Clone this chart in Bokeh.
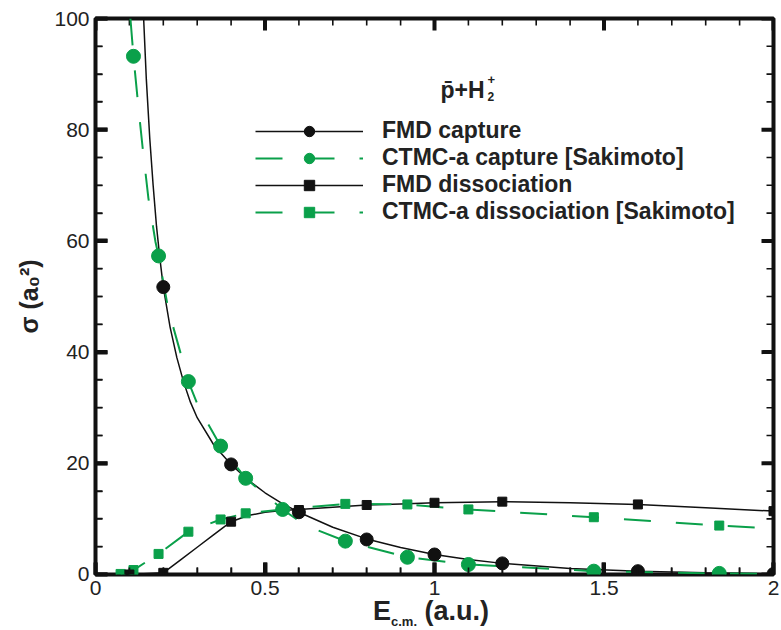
import numpy as np
from bokeh.plotting import figure
from bokeh.layouts import column
from bokeh.models import (Range1d, SingleIntervalTicker, Legend, LegendItem, Label, Div)
from bokeh.embed import file_html
from bokeh.resources import INLINE

# ---------------- data ----------------
x_tick_labels = ["0", "0.5", "1", "1.5", "2"]
y_tick_labels = ["0", "20", "40", "60", "80", "100"]

# FMD capture (black circles, solid curve)
fmd_cap_x = [0.2, 0.4, 0.6, 0.8, 1.0, 1.2, 1.6, 2.0]
fmd_cap_y = [51.7, 19.8, 11.2, 6.3, 3.6, 2.0, 0.6, 0.1]
fmd_cap_curve_x = [0.142, 0.15, 0.16, 0.17, 0.18, 0.19, 0.2, 0.22, 0.24, 0.26, 0.28, 0.3,
                   0.35, 0.4, 0.45, 0.5, 0.55, 0.6, 0.7, 0.8, 0.9, 1.0, 1.1, 1.2, 1.4,
                   1.6, 1.8, 2.0]
fmd_cap_curve_y = [100, 89, 78.5, 70, 62.6, 56.8, 51.7, 44.5, 39.0, 34.6, 31.0, 28.2,
                   23.2, 19.8, 17.0, 14.7, 12.8, 11.2, 8.5, 6.4, 4.85, 3.6, 2.7, 2.0, 1.1,
                   0.6, 0.3, 0.1]

# CTMC-a capture [Sakimoto] (green circles, dashed curve)
ctmc_cap_x = [0.112, 0.186, 0.274, 0.369, 0.443, 0.552, 0.737, 0.92, 1.10, 1.47, 1.84]
ctmc_cap_y = [93.2, 57.3, 34.7, 23.1, 17.3, 11.7, 6.0, 3.1, 1.8, 0.6, 0.2]
ctmc_cap_curve_x = [0.103, 0.112, 0.125, 0.139, 0.156, 0.177, 0.186, 0.215, 0.251, 0.274,
                    0.304, 0.369, 0.443, 0.552, 0.62, 0.737, 0.92, 1.10, 1.47, 1.84, 2.0]
ctmc_cap_curve_y = [100, 93.2, 85, 76.8, 67.7, 59.8, 57.3, 47.6, 39.8, 34.7,
                    30.1, 23.1, 17.3, 11.7, 8.8, 6.0, 3.1, 1.8, 0.6, 0.2, 0.1]

# FMD dissociation (black squares, solid curve)
fmd_dis_x = [0.1, 0.2, 0.4, 0.6, 0.8, 1.0, 1.2, 1.6, 2.0]
fmd_dis_y = [0.0, 0.3, 9.5, 11.6, 12.5, 12.9, 13.1, 12.6, 11.4]
fmd_dis_curve_x = [0.1, 0.2, 0.25, 0.3, 0.35, 0.4, 0.45, 0.5, 0.55, 0.6, 0.7, 0.8, 0.9,
                   1.0, 1.1, 1.2, 1.4, 1.6, 1.8, 2.0]
fmd_dis_curve_y = [0.0, 0.3, 2.6, 4.9, 7.2, 9.5, 10.6, 11.2, 11.5, 11.7, 12.1, 12.5, 12.7,
                   12.9, 13.0, 13.1, 12.9, 12.6, 12.0, 11.4]

# CTMC-a dissociation [Sakimoto] (green squares, dashed curve)
ctmc_dis_x = [0.074, 0.112, 0.186, 0.274, 0.369, 0.443, 0.552, 0.737, 0.92, 1.10, 1.47, 1.84]
ctmc_dis_y = [0.1, 0.8, 3.7, 7.7, 9.9, 11.0, 11.7, 12.7, 12.6, 11.7, 10.3, 8.8]
ctmc_dis_curve_x = ctmc_dis_x + [2.0]
ctmc_dis_curve_y = ctmc_dis_y + [8.3]

labels = ["FMD capture", "CTMC-a capture [Sakimoto]", "FMD dissociation",
          "CTMC-a dissociation [Sakimoto]"]

# ---------------- styling ----------------
BLACK = "#111111"
GREEN = "#0aa04a"
TXT = "#222222"
FONT = "Liberation Sans"
X0, X1, Y0, Y1 = 0, 2, 0, 100
EPS_X, EPS_Y = 1e-6, 1e-4
W, H = 781, 606
BL, BR, BT, BB = 95, 8, 18, 32
FW, FH = W - BL - BR, H - BT - BB
PX_X = (X1 - X0) / FW
PX_Y = (Y1 - Y0) / FH

p = figure(width=W, height=H, output_backend="svg", toolbar_location=None,
           x_range=Range1d(X0 - EPS_X, X1 + EPS_X), y_range=Range1d(Y0 - EPS_Y, Y1 + EPS_Y),
           min_border_left=BL, min_border_right=BR, min_border_top=BT, min_border_bottom=BB)
p.xgrid.grid_line_color = None
p.ygrid.grid_line_color = None
p.outline_line_color = BLACK
p.outline_line_width = 4

x_major = [float(s) for s in x_tick_labels]
y_major = [float(s) for s in y_tick_labels]
p.xaxis.ticker = SingleIntervalTicker(interval=0.5, num_minor_ticks=5)
p.yaxis.ticker = SingleIntervalTicker(interval=20, num_minor_ticks=4)
p.xaxis.major_label_overrides = {v: s for v, s in zip(x_major, x_tick_labels)}
p.yaxis.major_label_overrides = {v: s for v, s in zip(y_major, y_tick_labels)}

# inward ticks drawn by the bottom and left axes themselves
for ax in (p.xaxis[0], p.yaxis[0]):
    ax.axis_line_color = None
    ax.major_tick_in = 12
    ax.major_tick_out = 0
    ax.minor_tick_in = 7
    ax.minor_tick_out = 0
    ax.major_tick_line_color = BLACK
    ax.minor_tick_line_color = BLACK
    ax.major_tick_line_width = 4
    ax.minor_tick_line_width = 1.6
    ax.major_label_text_font = FONT
    ax.major_label_text_font_size = "21px"
    ax.major_label_text_color = TXT
    ax.major_label_standoff = 6

p.yaxis.axis_label = "σ (a₀²)"
p.yaxis.axis_label_text_font = FONT
p.yaxis.axis_label_text_font_style = "bold"
p.yaxis.axis_label_text_font_size = "25px"
p.yaxis.axis_label_text_color = TXT
p.yaxis.axis_label_standoff = 8

# mirrored inward ticks on the top and right edges
x_minor = [float(v) for v in np.round(np.arange(X0, X1 + 1e-9, 0.1), 3) if v not in x_major]
y_minor = [float(v) for v in np.arange(Y0, Y1 + 1e-9, 5.0) if v not in y_major]
for xs, w, ln in ((x_major, 4, 12), (x_minor, 1.6, 7)):
    n = len(xs)
    p.segment(x0=xs, y0=[Y1] * n, x1=xs, y1=[Y1 - ln * PX_Y] * n, line_color=BLACK, line_width=w)
    p.segment(x0=xs, y0=[Y0] * n, x1=xs, y1=[Y0 + ln * PX_Y] * n, line_color=BLACK, line_width=w)
for ys, w, ln in ((y_major, 4, 12), (y_minor, 1.6, 7)):
    n = len(ys)
    p.segment(x0=[X1] * n, y0=ys, x1=[X1 - ln * PX_X] * n, y1=ys, line_color=BLACK, line_width=w)
    p.segment(x0=[X0] * n, y0=ys, x1=[X0 + ln * PX_X] * n, y1=ys, line_color=BLACK, line_width=w)

# ---------------- curves and markers ----------------
l1 = p.line(fmd_cap_curve_x, fmd_cap_curve_y, line_color=BLACK, line_width=1.5)
l2 = p.line(ctmc_cap_curve_x, ctmc_cap_curve_y, line_color=GREEN, line_width=2, line_dash="27 25")
l3 = p.line(fmd_dis_curve_x, fmd_dis_curve_y, line_color=BLACK, line_width=1.5)
l4 = p.line(ctmc_dis_curve_x, ctmc_dis_curve_y, line_color=GREEN, line_width=2, line_dash="27 25")

s2 = p.scatter(ctmc_cap_x, ctmc_cap_y, marker="circle", size=14, fill_color=GREEN, line_color=GREEN)
s4 = p.scatter(ctmc_dis_x, ctmc_dis_y, marker="square", size=9, fill_color=GREEN, line_color=GREEN)
s3 = p.scatter(fmd_dis_x, fmd_dis_y, marker="square", size=9, fill_color=BLACK, line_color=BLACK)
s1 = p.scatter(fmd_cap_x, fmd_cap_y, marker="circle", size=13, fill_color=BLACK, line_color=BLACK)

legend = Legend(items=[LegendItem(label=labels[0], renderers=[l1, s1]),
                       LegendItem(label=labels[1], renderers=[l2, s2]),
                       LegendItem(label=labels[2], renderers=[l3, s3]),
                       LegendItem(label=labels[3], renderers=[l4, s4])],
                location=(160, 349), orientation="vertical",
                glyph_width=108, glyph_height=26, label_height=20, spacing=0,
                label_standoff=19, padding=0, margin=0,
                border_line_color=None, background_fill_alpha=0,
                label_text_font=FONT, label_text_font_style="bold",
                label_text_font_size="23px", label_text_color=TXT)
p.add_layout(legend, "center")

# ---------------- title inside plot: p̄+H2+ ----------------
p.add_layout(Label(x=345, y=485, x_units="screen", y_units="screen", text="p̄+H",
                   text_font=FONT, text_font_style="bold", text_font_size="23px",
                   text_color=TXT, text_baseline="alphabetic"))
p.add_layout(Label(x=392, y=478, x_units="screen", y_units="screen", text="2",
                   text_font=FONT, text_font_style="bold", text_font_size="12px",
                   text_color=TXT, text_baseline="alphabetic"))
p.add_layout(Label(x=392, y=495, x_units="screen", y_units="screen", text="+",
                   text_font=FONT, text_font_style="bold", text_font_size="13px",
                   text_color=TXT, text_baseline="alphabetic"))

# ---------------- x-axis title: E_c.m. (a.u.) ----------------
xtitle = Div(width=781, height=24, styles={"overflow": "visible"},
             text=('<div style="position:relative; top:-13px; margin-left:368px; '
                   'font-family:\'Liberation Sans\'; font-weight:bold; font-size:27px; '
                   'line-height:1; color:#222222; white-space:nowrap;">'
                   'E<sub style="font-size:13px; line-height:0;">c.m.</sub> (a.u.)</div>'))

layout = column(p, xtitle, spacing=0)
open("out.html", "w").write(file_html(layout, INLINE))
